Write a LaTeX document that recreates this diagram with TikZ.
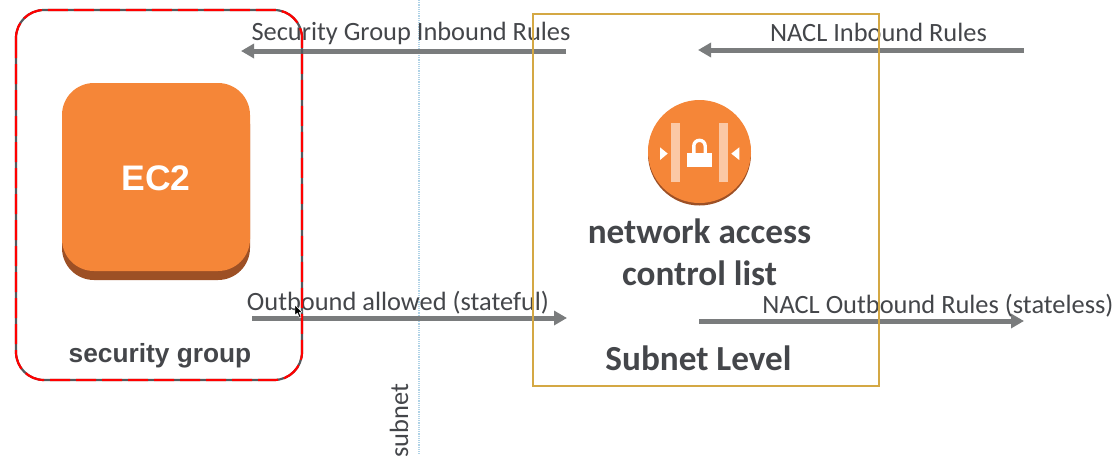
\documentclass[tikz,border=0pt]{standalone}
\usepackage{fontspec}
\setmainfont{Carlito}
\newfontfamily\headfont{Liberation Sans}
\usetikzlibrary{arrows.meta}
\definecolor{awsorange}{RGB}{245,134,56}
\definecolor{awsdark}{RGB}{157,80,37}
\definecolor{awslight}{RGB}{251,200,165}
\definecolor{labelgray}{RGB}{68,70,74}
\definecolor{flowgray}{RGB}{122,124,125}
\definecolor{sggray}{RGB}{85,88,92}
\definecolor{boxgold}{RGB}{212,168,68}
\definecolor{subnetblue}{RGB}{175,210,230}
\tikzset{
    flow/.style={line width=5pt,flowgray,-{Triangle[length=13pt,width=14pt]}},
    flowlabel/.style={labelgray,inner sep=0pt,font=\fontsize{26.4}{26.4}\selectfont},
    boldlabel/.style={labelgray,inner sep=0pt,font=\fontsize{35.2}{42}\selectfont\bfseries,align=center},
    tile/.style={minimum size=188pt,inner sep=0pt,rounded corners=32pt}
}
\begin{document}
\begin{tikzpicture}[x=1pt,y=-1pt]
    \useasboundingbox (0,0) rectangle (1119,474);

    % subnet line
    \coordinate (subnettop) at (419,0);
    \coordinate (subnetend) at (419,454);
    \draw[subnetblue,line width=1.2pt,densely dotted] (subnettop) -- (subnetend);
    \node[flowlabel,rotate=90] (subnetlabel) at (399,421) {subnet};

    % ec2 tile
    \node[tile,fill=awsdark] (ec2base) at (156,186) {};
    \node[tile,fill=awsorange] (ec2) at (156,177) {};
    \node[text=white,inner sep=0pt,font=\headfont\fontsize{35.5}{35.5}\selectfont\bfseries] (ec2label) at (156,178) {EC2};
    \node[labelgray,inner sep=0pt,font=\headfont\fontsize{26.3}{26.3}\selectfont\bfseries] (sglabel) at (160,355.5) {security group};

    % nacl icon
    \node[circle,fill=awsdark,minimum size=103pt,inner sep=0pt] (naclbase) at (699.5,154) {};
    \node[circle,fill=awsorange,minimum size=103pt,inner sep=0pt] (nacl) at (699.5,151.5) {};
    \fill[awslight] (671.3,122.7) rectangle (680,182.3);
    \fill[awslight] (719,122.7) rectangle (727.7,182.3);
    \fill[white] (660,147.3) -- (667.7,153.6) -- (660,160) -- cycle;
    \fill[white] (739.3,147.3) -- (731.3,153.6) -- (739.3,160) -- cycle;
    \fill[white] (686.7,152.7) rectangle (712.3,167);
    \draw[white,line width=3.4pt] (693.8,153) -- (693.8,146) arc[start angle=180,end angle=360,radius=5.7] -- (705.2,153);

    \node[boldlabel] (nacllabel) at (699.5,252) {network access\\control list};
    \node[boldlabel] (subnetlevel) at (698.5,358) {Subnet Level};

    % arrows
    \coordinate (sginstart) at (566,51);
    \coordinate (sginend) at (241,51);
    \coordinate (naclinstart) at (1024,50);
    \coordinate (naclinend) at (698,50);
    \coordinate (outstart) at (252,318);
    \coordinate (outend) at (567,318);
    \coordinate (nacloutstart) at (699,321);
    \coordinate (nacloutend) at (1024,321);
    \draw[flow] (sginstart) -- (sginend);
    \draw[flow] (naclinstart) -- (naclinend);
    \draw[flow] (outstart) -- (outend);
    \draw[flow] (nacloutstart) -- (nacloutend);

    \node[flowlabel] (sginlabel) at (411,33.5) {Security Group Inbound Rules};
    \node[flowlabel] (naclinlabel) at (878.5,32) {NACL Inbound Rules};
    \node[flowlabel] (outlabel) at (398,303) {Outbound allowed (stateful)};
    \node[flowlabel] (nacloutlabel) at (938,305.5) {NACL Outbound Rules (stateless)};

    % boxes
    \draw[sggray,line width=2.2pt,rounded corners=28pt] (16,10) rectangle (302,380);
    \draw[red,line width=2.2pt,rounded corners=28pt,dash pattern=on 20pt off 6pt] (16,10) rectangle (302,380);
    \draw[boxgold,line width=1.8pt] (533,14) rectangle (879,386);

    % mouse pointer
    \fill[black,draw=white,line width=0.4pt] (295,305) -- (295,315) -- (297.5,313) -- (299.5,318) -- (301,317.3) -- (299.2,312.5) -- (302,312) -- cycle;
\end{tikzpicture}
\end{document}
